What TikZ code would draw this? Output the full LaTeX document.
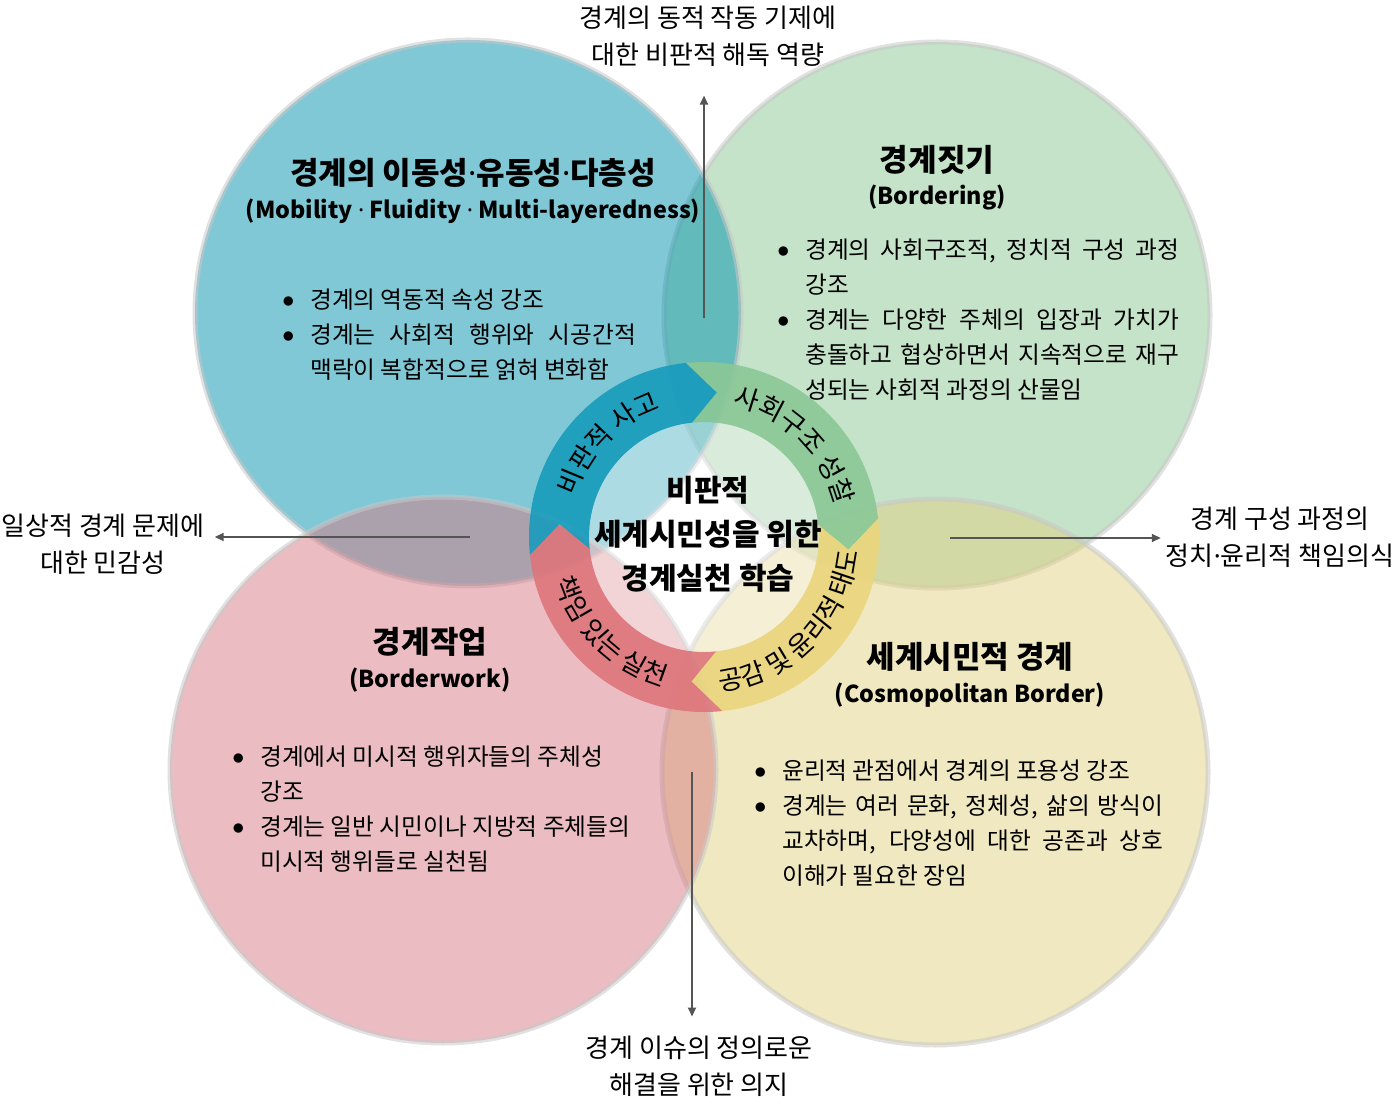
\documentclass[tikz,border=0pt]{standalone}
\usepackage{fontspec}
\setmainfont{Noto Sans CJK KR}
\newfontfamily\dotfont{Noto Sans}
\usepackage{tikz}
\usetikzlibrary{
    arrows.meta,
    decorations.text,
    calc,
    positioning
}

\definecolor{cblue}{RGB}{1,145,173}
\definecolor{cgreen}{RGB}{139,199,145}
\definecolor{cyellow}{RGB}{225,209,129}
\definecolor{cred}{RGB}{215,123,133}
\definecolor{ablue}{RGB}{24,156,188}
\definecolor{agreen}{RGB}{138,200,150}
\definecolor{ayellow}{RGB}{234,213,125}
\definecolor{ared}{RGB}{221,118,124}
\definecolor{rimgray}{RGB}{200,200,200}
\definecolor{conngray}{RGB}{85,85,85}

\newcommand\md{{\dotfont ·}}
\newcommand\bul{\makebox[26pt][l]{\hspace*{-1pt}\raisebox{3.5pt}{\fontsize{10.5}{10.5}\selectfont ●}}}
\newcommand\ind{\hspace*{26pt}}
\newcommand\jl[2]{\hbox to #1pt{#2}}
\newcommand\arcfont{\fontsize{26.5}{26.5}\selectfont}

\tikzset{
    disc/.style={fill=#1, fill opacity=0.5, draw=rimgray, draw opacity=0.55, line width=5pt},
    ttl/.style={font=\bfseries\fontsize{31}{36}\selectfont, inner sep=0pt},
    sub/.style={font=\bfseries\fontsize{23.3}{28}\selectfont, inner sep=0pt},
    body/.style={font=\fontsize{23.7}{35}\selectfont, align=left, anchor=west, inner sep=0pt},
    outtxt/.style={font=\fontsize{26}{37}\selectfont, align=center, inner sep=0pt},
    conn/.style={draw=conngray, line width=1.8pt, -{Triangle[length=9pt, width=8pt]}},
    arclabel/.style={decorate, decoration={text along path, text align=center, text={|\arcfont|#1}}}
}

\begin{document}
\begin{tikzpicture}[x=1pt, y=1pt]
    \useasboundingbox (0, 0) rectangle (1399, 1104);

    \coordinate (cB) at (468, 791);
    \coordinate (cG) at (937, 789);
    \coordinate (cR) at (443, 334);
    \coordinate (cY) at (935, 332);
    \coordinate (ring) at (704, 567);

    \draw[disc=cgreen] (cG) circle (273);
    \draw[disc=cblue] (cB) circle (273);
    \draw[disc=cyellow] (cY) circle (273);
    \draw[disc=cred] (cR) circle (273);
    \fill[white, opacity=0.35] (ring) circle (115);

    \begin{scope}[shift={(ring)}]
        \foreach \col/\t in {agreen/96, ablue/186, ayellow/6, ared/-84}
            \fill[\col, opacity=0.9]
            (\t:175) arc[start angle=\t, end angle=\t-90, radius=175]
            -- (\t-101:145) -- (\t-90:115)
            arc[start angle=\t-90, end angle=\t, radius=115]
            -- (\t-11:145) -- cycle;

        \path[arclabel={비판적 사고}] (186:135) arc[start angle=186, end angle=85, radius=135];
        \path[arclabel={사회구조 성찰}] (96:135) arc[start angle=96, end angle=-5, radius=135];
        \path[arclabel={공감 및 윤리적 태도}] (-95:155) arc[start angle=-95, end angle=6, radius=155];
        \path[arclabel={책임 있는 실천}] (175:155) arc[start angle=175, end angle=276, radius=155];
    \end{scope}

    \node[font=\bfseries\fontsize{30}{44}\selectfont, align=center] (core) at (708, 570)
        {비판적\\세계시민성을 위한\\경계실천 학습};

    \node[ttl] (hB) at (473, 931) {경계의 이동성\md 유동성\md 다층성};
    \node[sub] (sB) at (473, 893) {(Mobility \md{} Fluidity \md{} Multi-layeredness)};
    \node[body] (bB) at (284, 769)
        {\bul 경계의 역동적 속성 강조\\
         \bul\jl{326}{경계는 사회적 행위와 시공간적}\\
         \ind 맥락이 복합적으로 얽혀 변화함};

    \node[ttl] (hG) at (937, 944) {경계짓기};
    \node[sub] (sG) at (937, 907) {(Bordering)};
    \node[body] (bG) at (779, 784)
        {\bul\jl{374}{경계의 사회구조적, 정치적 구성 과정}\\
         \ind 강조\\
         \bul\jl{374}{경계는 다양한 주체의 입장과 가치가}\\
         \ind\jl{374}{충돌하고 협상하면서 지속적으로 재구}\\
         \ind 성되는 사회적 과정의 산물임};

    \node[ttl] (hR) at (430, 462) {경계작업};
    \node[sub] (sR) at (430, 424) {(Borderwork)};
    \node[body] (bR) at (234, 294.5)
        {\bul 경계에서 미시적 행위자들의 주체성\\
         \ind 강조\\
         \bul 경계는 일반 시민이나 지방적 주체들의\\
         \ind 미시적 행위들로 실천됨};

    \node[ttl] (hY) at (970, 447) {세계시민적 경계};
    \node[sub] (sY) at (970, 409) {(Cosmopolitan Border)};
    \node[body] (bY) at (756, 280.5)
        {\bul 윤리적 관점에서 경계의 포용성 강조\\
         \bul\jl{381}{경계는 여러 문화, 정체성, 삶의 방식이}\\
         \ind\jl{381}{교차하며, 다양성에 대한 공존과 상호}\\
         \ind 이해가 필요한 장임};

    \node[outtxt] (tTop) at (708, 1068) {경계의 동적 작동 기제에\\대한 비판적 해독 역량};
    \node[outtxt] (tLeft) at (103, 560) {일상적 경계 문제에\\대한 민감성};
    \node[outtxt] (tRight) at (1280, 567) {경계 구성 과정의\\정치\md 윤리적 책임의식};
    \node[outtxt] (tBot) at (699, 38) {경계 이슈의 정의로운\\해결을 위한 의지};

    \coordinate (pTop) at (704, 786);
    \coordinate (pLeft) at (470, 567);
    \coordinate (pRight) at (950, 566);
    \coordinate (pBot) at (692, 332);

    \draw
    (pTop) edge[conn, shorten >=29pt] (pTop |- tTop.south)
    (pLeft) edge[conn, shorten >=10pt] (pLeft -| tLeft.east)
    (pRight) edge[conn, shorten >=5pt] (pRight -| tRight.west)
    (pBot) edge[conn, shorten >=19pt] (pBot |- tBot.north);
\end{tikzpicture}
\end{document}
